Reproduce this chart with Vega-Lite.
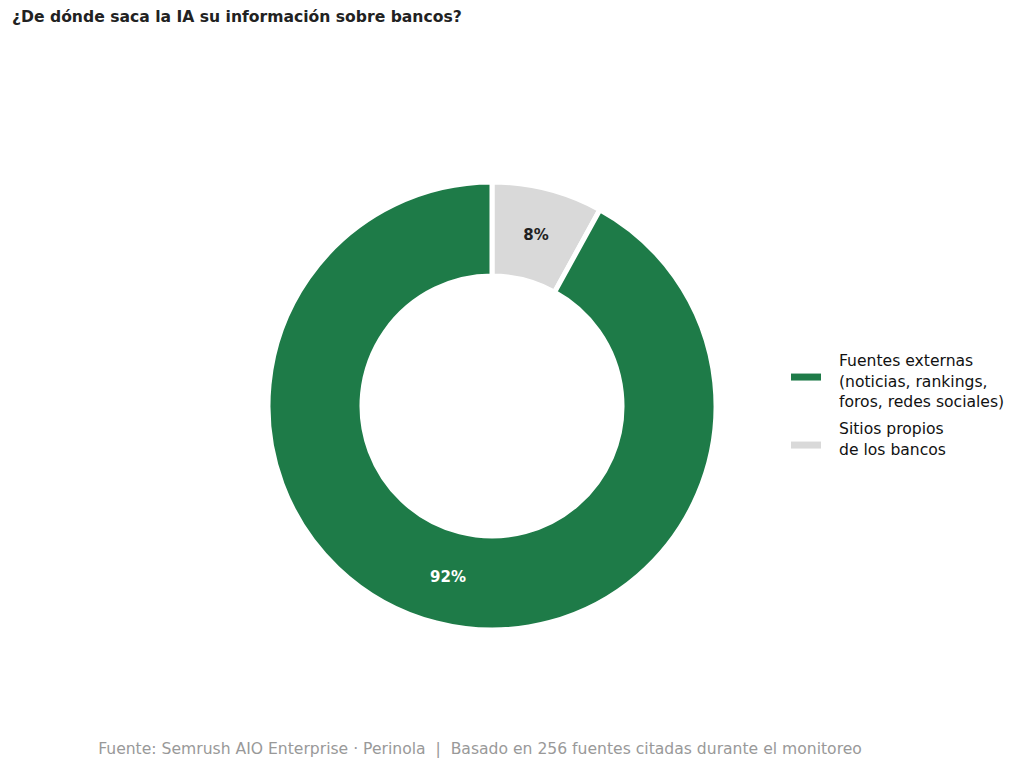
{
  "$schema": "https://vega.github.io/schema/vega-lite/v6.json",
  "background": "white",
  "padding": {"left": 12, "top": 10, "right": 0, "bottom": 0},
  "config": {
    "font": "DejaVu Sans",
    "view": {"stroke": null},
    "style": {"guide-label": {"lineHeight": 20.5}}
  },
  "title": {
    "text": "¿De dónde saca la IA su información sobre bancos?",
    "anchor": "start",
    "fontSize": 15.6,
    "fontWeight": "bold",
    "color": "#222222",
    "offset": 80
  },
  "vconcat": [
    {
      "width": 960,
      "height": 600,
      "title": {
        "text": "Fuente: Semrush AIO Enterprise · Perinola \u00a0|\u00a0 Basado en 256 fuentes citadas durante el monitoreo",
        "orient": "bottom",
        "anchor": "middle",
        "dx": -12,
        "fontSize": 15.6,
        "fontWeight": "normal",
        "color": "#999999",
        "offset": 36
      },
      "data": {
        "values": [
          {"fuente": "Sitios propios\nde los bancos", "pct": 0.08, "orden": 1},
          {"fuente": "Fuentes externas\n(noticias, rankings,\nforos, redes sociales)", "pct": 0.92, "orden": 2}
        ]
      },
      "encoding": {
        "theta": {"field": "pct", "type": "quantitative", "stack": true},
        "order": {"field": "orden", "type": "quantitative"}
      },
      "layer": [
        {
          "mark": {"type": "arc", "innerRadius": 130, "outerRadius": 224, "stroke": "white", "strokeWidth": 5},
          "encoding": {
            "color": {
              "field": "fuente",
              "type": "nominal",
              "scale": {
                "domain": ["Fuentes externas\n(noticias, rankings,\nforos, redes sociales)", "Sitios propios\nde los bancos"],
                "range": ["#1e7b48", "#d9d9d9"]
              },
              "legend": {
                "title": null,
                "orient": "none",
                "legendX": 779,
                "legendY": 240,
                "labelExpr": "split(datum.label, '\\n')",
                "labelFontSize": 15.6,
                "labelColor": "#111111",
                "labelLimit": 400,
                "labelOffset": 18,
                "rowPadding": 3,
                "symbolType": "M-1,0.837H1V1.303H-1Z",
                "symbolSize": 900,
                "symbolStrokeWidth": 0
              }
            }
          }
        },
        {
          "mark": {"type": "text", "radius": 177, "fontSize": 15, "fontWeight": "bold"},
          "encoding": {
            "text": {"field": "pct", "type": "quantitative", "format": ".0%"},
            "color": {
              "field": "fuente",
              "type": "nominal",
              "scale": {
                "domain": ["Fuentes externas\n(noticias, rankings,\nforos, redes sociales)", "Sitios propios\nde los bancos"],
                "range": ["#ffffff", "#222222"]
              },
              "legend": null
            }
          }
        }
      ],
      "resolve": {"scale": {"color": "independent"}}
    }
  ]
}
